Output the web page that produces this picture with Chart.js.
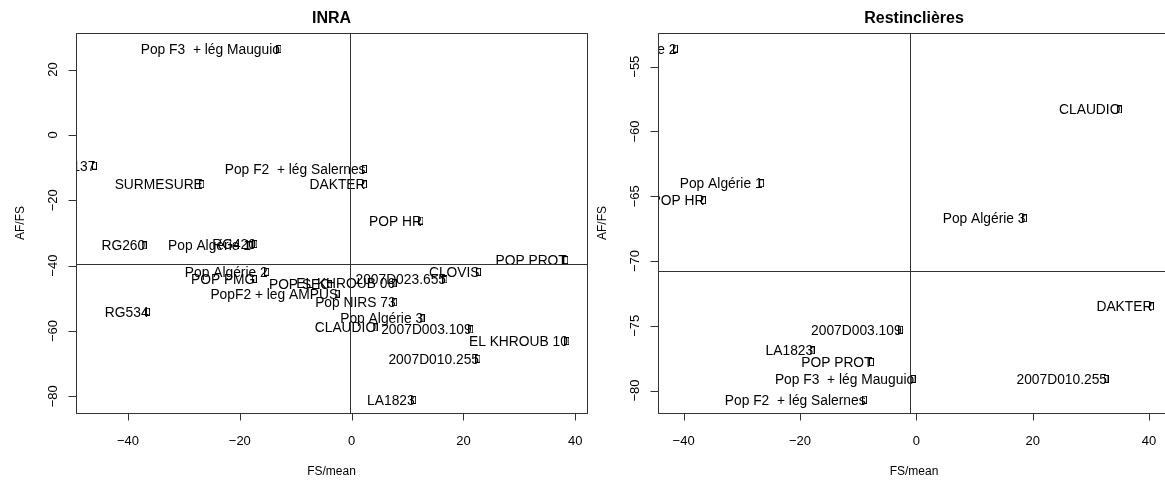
<!DOCTYPE html>
<html>
<head>
<meta charset="utf-8">
<script src="https://cdn.jsdelivr.net/npm/chart.js@4.4.1/dist/chart.umd.min.js"></script>
<style>
  html, body { margin: 0; padding: 0; background: #fff; overflow: hidden; width: 1165px; height: 481px; }
  #cadre { position: relative; width: 1165px; height: 481px; overflow: hidden; }
  canvas { position: absolute; top: 0; }
</style>
</head>
<body>
<div id="cadre">
  <canvas id="inraChart" width="592" height="481" style="left:0"></canvas>
  <canvas id="restChart" width="590" height="481" style="left:592px"></canvas>
</div>
<script>
// ---- Donnees : site INRA ----
const inraNoms = ['Pop F3  + lég Mauguio', 'RG137', 'SURMESURE', 'Pop F2  + lég Salernes', 'DAKTER',
  'POP HR', 'RG260', 'Pop Algérie 1', 'RG420', 'Pop Algérie 2', 'POP PMG', 'POP SEC',
  'PopF2 + leg AMPUS', 'EL KHROUB 06', '2007D023.655', 'CLOVIS', 'POP PROT', 'Pop NIRS 73',
  'Pop Algérie 3', 'CLAUDIO', '2007D003.109', 'EL KHROUB 10', '2007D010.255', 'LA1823', 'RG534'];
const inraFS = [-13.0, -46.0, -26.8, 2.3, 2.3, 12.4, -37.1, -18.2, -17.3, -15.2, -17.4, -4.0,
  -2.6, 7.6, 16.7, 22.7, 38.3, 7.7, 12.6, 4.2, 21.3, 38.5, 22.6, 11.1, -36.5];
const inraAF = [26.3, -9.4, -15.1, -10.4, -15.1, -26.2, -33.8, -33.8, -33.4, -41.9, -44.1, -45.7,
  -48.6, -45.4, -44.2, -41.9, -38.3, -51.2, -56.1, -58.9, -59.5, -63.1, -68.5, -81.1, -54.1];
const inraTicksX = [-40, -20, 0, 20, 40];
const inraTicksY = [-80, -60, -40, -20, 0, 20];
const inraMoyFS = -0.23;
const inraMoyAF = -39.6;

// ---- Donnees : site Restinclieres ----
const restNoms = ['Pop Algérie 2', 'Pop Algérie 1', 'POP HR', 'CLAUDIO', 'Pop Algérie 3', 'DAKTER',
  '2007D003.109', 'LA1823', 'POP PROT', 'Pop F3  + lég Mauguio', '2007D010.255', 'Pop F2  + lég Salernes'];
const restFS = [-41.4, -26.6, -36.6, 34.9, 18.6, 40.4, -2.7, -17.9, -7.7, -0.55, 32.6, -8.9];
const restAF = [-53.6, -64.0, -65.3, -58.3, -66.7, -73.5, -75.3, -76.9, -77.8, -79.1, -79.1, -80.7];
const restTicksX = [-40, -20, 0, 20, 40];
const restTicksY = [-80, -75, -70, -65, -60, -55];
const restMoyFS = -1.1;
const restMoyAF = -70.8;

const POLICE = '"Liberation Sans", Arial, Helvetica, sans-serif';

// petit carre (pch = 0) utilise comme marqueur
function carrePoint() {
    const c = document.createElement('canvas');
    c.width = 5;
    c.height = 8;
    const g = c.getContext('2d');
    g.strokeStyle = '#000';
    g.lineWidth = 1;
    g.strokeRect(0.5, 0.5, 4, 7);
    return c;
}

function texteTick(v) {
    return v < 0 ? '\u2212' + Math.abs(v) : String(v);
}

// Cadre "base R" : boite, graduations, titres, etiquettes et lignes des moyennes
const cadreR = {
    id: 'cadreR',
    afterDatasetsDraw(chart, args, o) {
        const ctx = chart.ctx;
        const a = chart.chartArea;
        const xs = chart.scales.x;
        const ys = chart.scales.y;
        const meta = chart.getDatasetMeta(0);
        const noms = chart.data.datasets[0].noms;

        ctx.save();
        ctx.beginPath();
        ctx.rect(a.left, a.top, a.right - a.left, a.bottom - a.top);
        ctx.clip();

        // etiquettes a gauche des points
        ctx.font = '13.8px ' + POLICE;
        ctx.fillStyle = '#000';
        ctx.textAlign = 'right';
        ctx.textBaseline = 'alphabetic';
        meta.data.forEach((pt, i) => {
            ctx.fillText(noms[i], pt.x + 1, pt.y + 5);
        });

        // lignes des moyennes (abline)
        ctx.strokeStyle = '#333';
        ctx.lineWidth = 1;
        const vx = Math.round(xs.getPixelForValue(o.moyX)) + 0.5;
        const hy = Math.round(ys.getPixelForValue(o.moyY)) + 0.5;
        ctx.beginPath();
        ctx.moveTo(vx, a.top);
        ctx.lineTo(vx, a.bottom);
        ctx.moveTo(a.left, hy);
        ctx.lineTo(a.right, hy);
        ctx.stroke();
        ctx.restore();
    },
    afterDraw(chart, args, o) {
        const ctx = chart.ctx;
        const a = chart.chartArea;
        const xs = chart.scales.x;
        const ys = chart.scales.y;
        const L = Math.round(a.left) + 0.5, R = Math.round(a.right) + 0.5;
        const T = Math.round(a.top) + 0.5, B = Math.round(a.bottom) + 0.5;

        ctx.save();
        ctx.strokeStyle = '#333';
        ctx.lineWidth = 1;
        ctx.strokeRect(L, T, R - L, B - T);

        // graduations
        ctx.beginPath();
        o.ticksX.forEach(v => {
            const px = Math.round(xs.getPixelForValue(v)) + 0.5;
            ctx.moveTo(px, B);
            ctx.lineTo(px, B + 7);
        });
        o.ticksY.forEach(v => {
            const py = Math.round(ys.getPixelForValue(v)) + 0.5;
            ctx.moveTo(L, py);
            ctx.lineTo(L - 8, py);
        });
        ctx.stroke();

        ctx.fillStyle = '#000';
        ctx.font = '13px ' + POLICE;
        ctx.textAlign = 'center';
        ctx.textBaseline = 'alphabetic';
        o.ticksX.forEach(v => {
            ctx.fillText(texteTick(v), xs.getPixelForValue(v), a.bottom + 32);
        });
        o.ticksY.forEach(v => {
            ctx.save();
            ctx.translate(a.left - 19, ys.getPixelForValue(v));
            ctx.rotate(-Math.PI / 2);
            ctx.fillText(texteTick(v), 0, 0);
            ctx.restore();
        });

        // titres des axes
        ctx.font = '12px ' + POLICE;
        ctx.fillText(o.titreX, (a.left + a.right) / 2, a.bottom + 62);
        ctx.save();
        ctx.translate(a.left - 52, (a.top + a.bottom) / 2);
        ctx.rotate(-Math.PI / 2);
        ctx.fillText(o.titreY, 0, 0);
        ctx.restore();

        // titre principal
        ctx.font = 'bold 16px ' + POLICE;
        ctx.fillText(o.titre, (a.left + a.right) / 2, 22.5);
        ctx.restore();
    }
};

function chizPanneau(id, noms, fs, af, bornes, cfg, padding) {
    const ctx = document.getElementById(id).getContext('2d');
    return new Chart(ctx, {
        type: 'scatter',
        data: {
            datasets: [{
                noms: noms,
                data: fs.map((x, i) => ({ x: x, y: af[i] })),
                pointStyle: carrePoint(),
                pointRadius: 4,
                pointHoverRadius: 4
            }]
        },
        options: {
            responsive: false,
            animation: false,
            events: [],
            layout: { padding: padding },
            scales: {
                x: { type: 'linear', display: false, min: bornes[0], max: bornes[1] },
                y: { type: 'linear', display: false, min: bornes[2], max: bornes[3] }
            },
            plugins: {
                legend: { display: false },
                tooltip: { enabled: false },
                cadreR: cfg
            }
        },
        plugins: [cadreR]
    });
}

chizPanneau('inraChart', inraNoms, inraFS, inraAF, [-49.3, 42.1, -85.1, 31.2], {
    titre: 'INRA', titreX: 'FS/mean', titreY: 'AF/FS',
    ticksX: inraTicksX, ticksY: inraTicksY, moyX: inraMoyFS, moyY: inraMoyAF
}, { left: 76, right: 4, top: 33, bottom: 68 });

chizPanneau('restChart', restNoms, restFS, restAF, [-44.4, 43.6, -81.73, -52.4], {
    titre: 'Restinclières', titreX: 'FS/mean', titreY: 'AF/FS',
    ticksX: restTicksX, ticksY: restTicksY, moyX: restMoyFS, moyY: restMoyAF
}, { left: 66, right: 12, top: 33, bottom: 68 });
</script>
</body>
</html>
